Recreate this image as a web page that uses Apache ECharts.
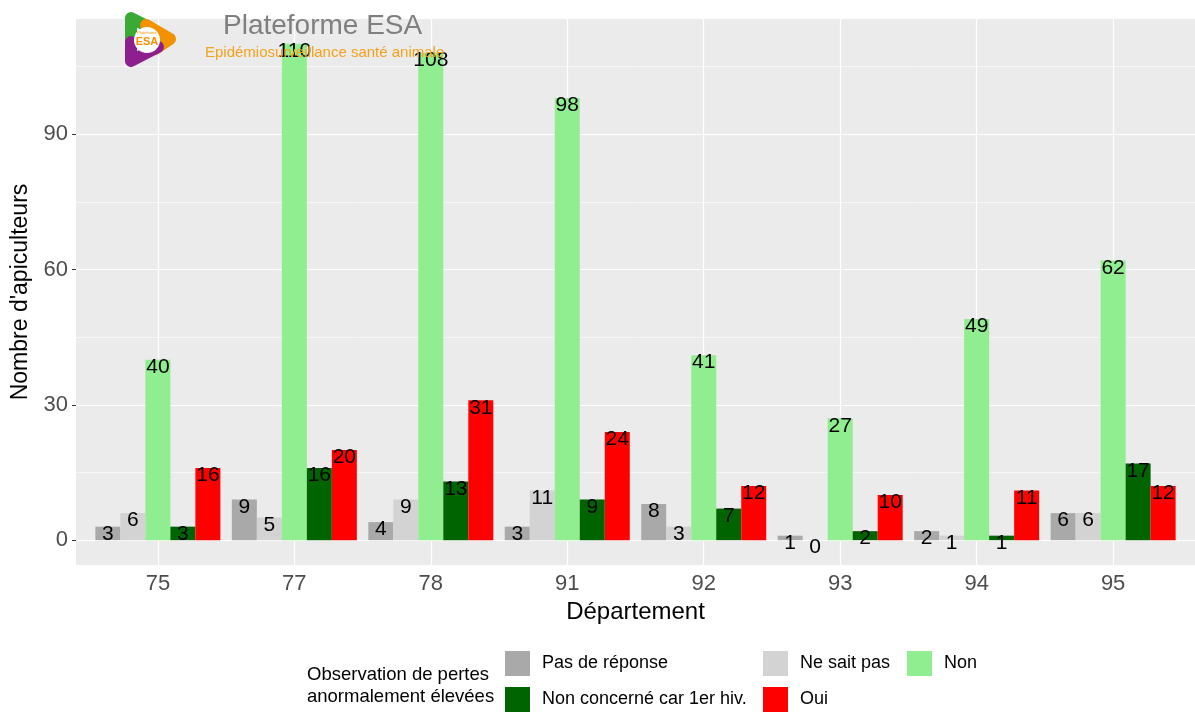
<!DOCTYPE html>
<html lang="fr">
<head>
<meta charset="UTF-8">
<title>Pertes anormalement élevées par département</title>
<script src="https://cdn.jsdelivr.net/npm/echarts@6/dist/echarts.min.js"></script>
<style>
    html, body { margin: 0; padding: 0; background: #fff; }
    #chart { width: 1195px; height: 713px; }
</style>
</head>
<body>
<div id="chart"></div>
<script>
    // données
    var departements = ['75', '77', '78', '91', '92', '93', '94', '95'];
    var pasDeReponse = [3, 9, 4, 3, 8, 1, 2, 6];
    var neSaitPas = [6, 5, 9, 11, 3, 0, 1, 6];
    var non = [40, 110, 108, 98, 41, 27, 49, 62];
    var nonConcerne = [3, 16, 13, 9, 7, 2, 1, 17];
    var oui = [16, 20, 31, 24, 12, 10, 11, 12];
    var yTicks = [0, 30, 60, 90];
    var yMinor = [15, 45, 75, 105];

    var police = "'Liberation Sans', Arial, sans-serif";
    var positions = departements.map(function (d, i) { return i + 1; });

    var chart = echarts.init(document.getElementById('chart'));

    function serie(nom, valeurs, couleur) {
        return {
            name: nom,
            type: 'bar',
            barWidth: 25,
            barGap: '0%',
            itemStyle: { color: couleur },
            label: {
                show: true,
                position: 'insideTop',
                distance: -3,
                color: '#000',
                fontSize: 21,
                fontFamily: police,
                formatter: function (p) { return p.value[1]; }
            },
            data: valeurs.map(function (v, i) { return [positions[i], v]; })
        };
    }

    // lignes de la grille façon ggplot
    var grille = [];
    yTicks.forEach(function (v) { grille.push({ yAxis: v, lineStyle: { width: 1.2 } }); });
    yMinor.forEach(function (v) { grille.push({ yAxis: v, lineStyle: { width: 0.6 } }); });
    positions.forEach(function (v) { grille.push({ xAxis: v, lineStyle: { width: 1.2 } }); });

    var series = [
        serie('Pas de réponse', pasDeReponse, '#a9a9a9'),
        serie('Ne sait pas', neSaitPas, '#d3d3d3'),
        serie('Non', non, '#90ee90'),
        serie('Non concerné car 1er hiv.', nonConcerne, '#006400'),
        serie('Oui', oui, '#ff0000')
    ];
    // la série du milieu est centrée sur le département
    series[2].markLine = {
        silent: true,
        z: 1,
        symbol: 'none',
        label: { show: false },
        lineStyle: { color: '#ffffff', type: 'solid' },
        data: grille
    };

    function legende(nom, gauche, haut) {
        return {
            left: gauche,
            top: haut,
            padding: 0,
            icon: 'rect',
            itemWidth: 25,
            itemHeight: 25,
            selectedMode: false,
            textStyle: { fontSize: 18, color: '#000', fontFamily: police, padding: [0, 0, 0, 7] },
            data: [nom]
        };
    }

    var option = {
        animation: false,
        backgroundColor: '#ffffff',
        textStyle: { fontFamily: police },
        grid: {
            left: 76,
            right: -9,
            top: 19,
            bottom: 148,
            show: true,
            backgroundColor: '#ebebeb',
            borderWidth: 0
        },
        xAxis: {
            type: 'value',
            min: 0.4,
            max: 8.6,
            name: 'Département',
            nameLocation: 'middle',
            nameGap: 30,
            nameTextStyle: { fontSize: 24, color: '#000', fontFamily: police },
            axisLine: { show: false },
            splitLine: { show: false },
            axisTick: { show: true, length: 4, lineStyle: { color: '#333' }, customValues: positions },
            axisLabel: {
                fontSize: 22,
                color: '#4d4d4d',
                margin: 8,
                customValues: positions,
                formatter: function (v) { return departements[Math.round(v) - 1]; }
            }
        },
        yAxis: {
            type: 'value',
            min: -5.5,
            max: 115.5,
            name: "Nombre d'apiculteurs",
            nameLocation: 'middle',
            nameGap: 40,
            nameTextStyle: { fontSize: 23, color: '#000', fontFamily: police },
            axisLine: { show: false },
            splitLine: { show: false },
            axisTick: { show: true, length: 4, lineStyle: { color: '#333' }, customValues: yTicks },
            axisLabel: { fontSize: 22, color: '#4d4d4d', margin: 8, customValues: yTicks }
        },
        legend: [
            legende('Pas de réponse', 505, 651),
            legende('Non concerné car 1er hiv.', 505, 687),
            legende('Ne sait pas', 763, 651),
            legende('Oui', 763, 687),
            legende('Non', 907, 651)
        ],
        graphic: [
            {
                type: 'text', left: 307, top: 664,
                style: { text: 'Observation de pertes\nanormalement élevées', lineHeight: 22, fill: '#000', font: '18.5px ' + police }
            },
            // logo Plateforme ESA
            {
                type: 'polyline', z: 10,
                shape: { points: [[131, 42], [131, 18], [151, 28]] },
                style: { stroke: '#3aa935', lineWidth: 12, lineJoin: 'round', lineCap: 'round', fill: null }
            },
            {
                type: 'polyline', z: 10,
                shape: { points: [[146, 25], [170, 39], [155, 49]] },
                style: { stroke: '#f39200', lineWidth: 12, lineJoin: 'round', lineCap: 'round', fill: null }
            },
            {
                type: 'polyline', z: 10,
                shape: { points: [[158, 47], [131, 61], [131, 42]] },
                style: { stroke: '#8e1f8f', lineWidth: 12, lineJoin: 'round', lineCap: 'round', fill: null }
            },
            {
                type: 'circle', z: 11,
                shape: { cx: 147, cy: 40, r: 13 },
                style: { fill: '#ffffff' }
            },
            {
                type: 'text', z: 12, x: 147, y: 42,
                style: { text: 'ESA', fill: '#f39200', font: 'bold 11px ' + police, align: 'center', verticalAlign: 'middle' }
            },
            {
                type: 'text', z: 12, x: 147, y: 33,
                style: { text: 'Plateforme', fill: '#f39200', font: '4px ' + police, align: 'center', verticalAlign: 'middle' }
            },
            {
                type: 'text', z: 10, left: 223, top: 12,
                style: { text: 'Plateforme ESA', fill: '#7f7f7f', font: '28px ' + police }
            },
            {
                type: 'text', z: 10, left: 205, top: 45,
                style: { text: 'Epidémiosurveillance santé animale', fill: '#f5a21b', font: '15px ' + police }
            }
        ],
        series: series
    };

    chart.setOption(option);
    window.onresize = function () {
        chart.resize();
    };
</script>
</body>
</html>
